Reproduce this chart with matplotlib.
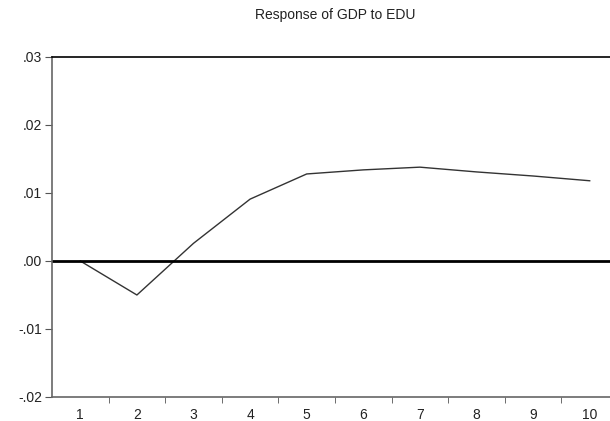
import numpy as np
import matplotlib
matplotlib.use("Agg")
import matplotlib.pyplot as plt

plt.rcParams['font.family'] = ['Liberation Sans', 'DejaVu Sans']

# impulse response
periods = [1, 2, 3, 4, 5, 6, 7, 8, 9, 10]
response = [0.0, -0.0050, 0.0026, 0.0091, 0.0128, 0.0134, 0.0138, 0.0131, 0.0125, 0.0118]
y_ticks = [-0.02, -0.01, 0.00, 0.01, 0.02, 0.03]
y_labels = ['-.02', '-.01', '.00', '.01', '.02', '.03']

W, H = 610, 421
fig = plt.figure(figsize=(W / 100, H / 100), dpi=100)
# plot area: left 52px, top 57px, bottom 397px, right edge cut off at ~618px
ax = fig.add_axes([52 / W, 1 - 397 / H, (618 - 52) / W, (397 - 57) / H])

ax.plot(periods, response, color='#333333', lw=1.0)
ax.axhline(0, color='black', lw=2.0)

ax.set_xlim(0.5, 10.5)
ax.set_ylim(-0.02, 0.03)

ax.set_yticks(y_ticks)
ax.set_yticklabels(y_labels)
ax.set_xticks(periods)
ax.set_xticks(np.arange(1.5, 10.5, 1), minor=True)

ax.tick_params(axis='x', which='major', length=0, pad=8, labelsize=10, colors='#222222')
ax.tick_params(axis='x', which='minor', length=4, direction='out', color='#555555')
ax.tick_params(axis='y', length=5, direction='out', color='#555555', labelsize=10, pad=2,
               labelcolor='#222222')

for s in ['left', 'bottom']:
    ax.spines[s].set_color('#666666')
    ax.spines[s].set_linewidth(1.2)
ax.spines['top'].set_color('black')
ax.spines['top'].set_linewidth(1.2)
ax.spines['right'].set_visible(False)

fig.text(335 / W, 1 - 15 / H, 'Response of GDP to EDU', ha='center', va='center',
         fontsize=10, color='#222222')

fig.savefig('out.png', dpi=100)
